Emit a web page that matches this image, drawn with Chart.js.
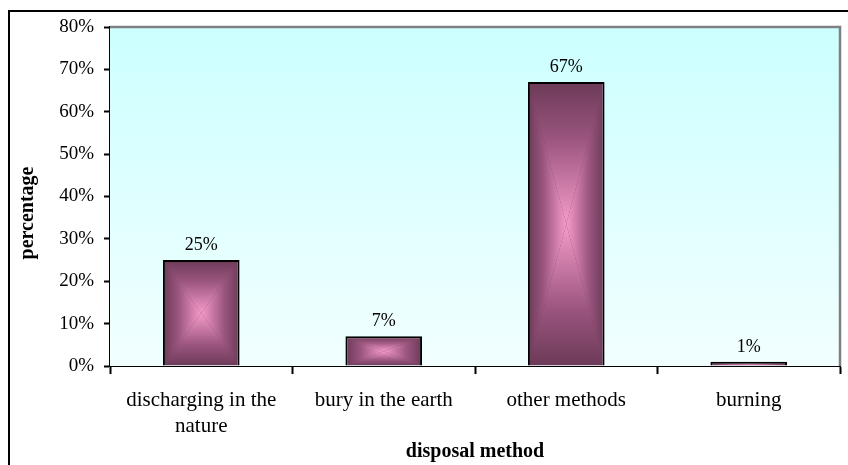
<!DOCTYPE html>
<html>
<head>
<meta charset="utf-8">
<script src="https://cdn.jsdelivr.net/npm/chart.js@4/dist/chart.umd.min.js"></script>
<style>
  html, body { margin: 0; padding: 0; background: #fff; overflow: hidden; }
  #frame { position: absolute; left: 8px; top: 10px; width: 900px; height: 520px; border: 2px solid #000; box-sizing: border-box; }
  #wrap { position: absolute; left: 0; top: 0; width: 848px; height: 465px; }
</style>
</head>
<body>
<div id="frame"></div>
<div id="wrap"><canvas id="c" width="848" height="465"></canvas></div>
<script>
// Disposal methods and their share (%)
const categories = [['discharging in the', 'nature'], 'bury in the earth', 'other methods', 'burning'];
const shares = [25, 7, 67, 1];
const yTickValues = [0, 10, 20, 30, 40, 50, 60, 70, 80];
const yTitle = 'percentage';
const xTitle = 'disposal method';

const SERIF = "'Liberation Serif', 'Times New Roman', serif";
const BAR_PCT = 0.42;
const EDGE = '#6c3a58', MID = '#9a557e', CENTER = '#f69bca';

// Rectangular "from centre" shading for each bar, built from the scales
function barFill(ctx) {
  const chart = ctx.chart;
  const xs = chart.scales.x, ys = chart.scales.y;
  if (ctx.type !== 'data' || !xs || !ys || !chart.chartArea) return MID;
  const cat = xs.width / categories.length;
  const cx = xs.getPixelForValue(ctx.dataIndex);
  const hw = cat * BAR_PCT / 2;
  const x0 = cx - hw, x1 = cx + hw;
  const y0 = ys.getPixelForValue(ctx.raw), y1 = ys.getPixelForValue(0);
  const mx = (x0 + x1) / 2, my = (y0 + y1) / 2;
  const off = document.createElement('canvas');
  off.width = chart.width; off.height = chart.height;
  const g = off.getContext('2d');
  g.fillStyle = EDGE;
  g.fillRect(x0, y0, x1 - x0, y1 - y0);
  const tri = (pts, gx0, gy0, gx1, gy1) => {
    const lg = g.createLinearGradient(gx0, gy0, gx1, gy1);
    lg.addColorStop(0, EDGE);
    lg.addColorStop(0.4, MID);
    lg.addColorStop(1, CENTER);
    g.fillStyle = lg;
    g.beginPath();
    g.moveTo(pts[0][0], pts[0][1]);
    for (let k = 1; k < pts.length; k++) g.lineTo(pts[k][0], pts[k][1]);
    g.closePath();
    g.fill();
  };
  tri([[x0, y0], [x1, y0], [mx, my]], mx, y0, mx, my);
  tri([[x0, y1], [x1, y1], [mx, my]], mx, y1, mx, my);
  tri([[x0, y0], [x0, y1], [mx, my]], x0, my, mx, my);
  tri([[x1, y0], [x1, y1], [mx, my]], x1, my, mx, my);
  return g.createPattern(off, 'no-repeat');
}

// Plot area background and its grey frame
const plotBackground = {
  id: 'plotBackground',
  beforeDatasetsDraw(chart) {
    const { ctx, chartArea: a } = chart;
    ctx.save();
    const lg = ctx.createLinearGradient(0, a.top, 0, a.bottom);
    lg.addColorStop(0, '#ccffff');
    lg.addColorStop(1, '#f2ffff');
    ctx.fillStyle = lg;
    ctx.fillRect(a.left, a.top, a.right - a.left, a.bottom - a.top);
    ctx.strokeStyle = '#808080';
    ctx.lineWidth = 2.5;
    ctx.beginPath();
    ctx.moveTo(a.left, a.top);
    ctx.lineTo(a.right, a.top);
    ctx.lineTo(a.right, a.bottom);
    ctx.stroke();
    ctx.restore();
  }
};

// Value labels above the bars and the vertical axis title
const labels = {
  id: 'labels',
  afterDatasetsDraw(chart) {
    const { ctx } = chart;
    const meta = chart.getDatasetMeta(0);
    ctx.save();
    ctx.fillStyle = '#000';
    ctx.font = '18px ' + SERIF;
    ctx.textAlign = 'center';
    ctx.textBaseline = 'alphabetic';
    meta.data.forEach((el, i) => {
      ctx.fillText(shares[i] + '%', el.x, el.y - 10);
    });
    ctx.restore();
  },
  afterDraw(chart) {
    const { ctx } = chart;
    ctx.save();
    ctx.translate(28, 213);
    ctx.rotate(-Math.PI / 2);
    ctx.fillStyle = '#000';
    ctx.font = 'bold 20px ' + SERIF;
    ctx.textAlign = 'center';
    ctx.textBaseline = 'middle';
    ctx.fillText(yTitle, 0, 0);
    ctx.restore();
  }
};

new Chart(document.getElementById('c'), {
  type: 'bar',
  data: {
    labels: categories,
    datasets: [{
      data: shares,
      backgroundColor: barFill,
      borderColor: '#000',
      borderWidth: 2,
      barPercentage: BAR_PCT,
      categoryPercentage: 1
    }]
  },
  options: {
    responsive: false,
    animation: false,
    events: [],
    layout: { padding: { left: 0, top: 27, right: 8, bottom: 0 } },
    plugins: { legend: { display: false }, tooltip: { enabled: false } },
    scales: {
      x: {
        grid: { display: true, drawOnChartArea: false, drawTicks: true, tickLength: 8, tickWidth: 2, tickColor: '#000', offset: true },
        border: { display: true, color: '#000', width: 2 },
        ticks: { color: '#000', font: { family: SERIF, size: 21, lineHeight: 1.25 }, padding: 13, maxRotation: 0, autoSkip: false },
        title: { display: true, text: xTitle, color: '#000', font: { family: SERIF, size: 20, weight: 'bold' }, padding: { top: 0, bottom: 1 } },
        afterFit(s) { s.height = 99; }
      },
      y: {
        min: 0,
        max: 80,
        afterBuildTicks(s) { s.ticks = yTickValues.map(v => ({ value: v })); },
        grid: { display: true, drawOnChartArea: false, drawTicks: true, tickLength: 6, tickWidth: 2, tickColor: '#000' },
        border: { display: true, color: '#000', width: 2 },
        ticks: { color: '#000', font: { family: SERIF, size: 19 }, padding: 10, callback: v => v + '%' },
        afterFit(s) { s.width = 110; }
      }
    }
  },
  plugins: [plotBackground, labels]
});
</script>
</body>
</html>
